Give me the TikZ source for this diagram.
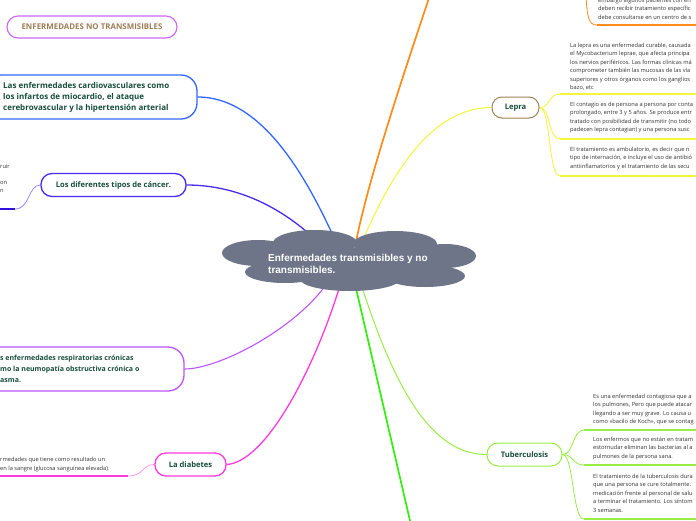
\documentclass[tikz,border=0pt]{standalone}
\usepackage{fontspec}
\setmainfont{Open Sans}
\newfontfamily\cloudfont{Liberation Sans}
\definecolor{cloudgray}{HTML}{6E7589}
\definecolor{dkgreen}{HTML}{174D3C}
\definecolor{titlegold}{HTML}{9B7E55}
\definecolor{titlepurple}{HTML}{CC66FF}
\definecolor{cardioblue}{HTML}{3366FF}
\definecolor{cancerblue}{HTML}{4A2AF0}
\definecolor{cancerlight}{HTML}{9988FF}
\definecolor{cancerdark}{HTML}{3311DD}
\definecolor{resppurple}{HTML}{BB55FF}
\definecolor{diabmagenta}{HTML}{FF3ADF}
\definecolor{diablight}{HTML}{FF99EE}
\definecolor{orangeL}{HTML}{FF8C1A}
\definecolor{yellowL}{HTML}{F5F53A}
\definecolor{lepbrown}{HTML}{A08358}
\definecolor{ltgreen}{HTML}{99EE44}
\definecolor{greenL}{HTML}{33EE11}
\definecolor{txtgray}{HTML}{333333}
\pgfdeclarelayer{bg}
\pgfsetlayers{bg,main}
\begin{document}
\begin{tikzpicture}[x=1pt,y=-1pt,
  topicbox/.style={draw, fill=white, line width=1.3pt, inner sep=0pt,
    font=\bfseries\fontsize{7.6}{11}\selectfont, text=dkgreen},
  topictext/.style={font=\bfseries\fontsize{8}{11}\selectfont, text=dkgreen, inner sep=0pt, align=left},
  small/.style={font=\fontsize{5.7}{8.4}\selectfont, text=txtgray, align=left, anchor=north west, inner sep=0pt},
  conn/.style={line width=1.3pt, line cap=round},
  thinconn/.style={line width=0.8pt},
  underline/.style={line width=1.6pt},
]
\path[use as bounding box] (0,0) rectangle (696,520);
\clip (0,0) rectangle (696,520);

% cloud
\fill[cloudgray] (258,253) ellipse [x radius=36pt, y radius=13pt];
\fill[cloudgray] (315,243) ellipse [x radius=42pt, y radius=13pt];
\fill[cloudgray] (395,244) ellipse [x radius=42pt, y radius=13pt];
\fill[cloudgray] (445,256) ellipse [x radius=31pt, y radius=12pt];
\fill[cloudgray] (425,276) ellipse [x radius=40pt, y radius=11pt];
\fill[cloudgray] (350,279) ellipse [x radius=50pt, y radius=12pt];
\fill[cloudgray] (285,272) ellipse [x radius=40pt, y radius=11pt];
\fill[cloudgray] (262,248) rectangle (450,278);
\node[anchor=north west, inner sep=0pt, align=left, text=white,
  font=\cloudfont\bfseries\fontsize{10}{11.5}\selectfont] (cloud) at (268,254.5)
  {Enfermedades transmisibles y no\\transmisibles.};

% coordinates inside the cloud
\coordinate (cb) at (336,242);
\coordinate (cc) at (318,242);
\coordinate (cr) at (328,282);
\coordinate (cd) at (341,282);
\coordinate (co) at (356,242);
\coordinate (cy) at (362,242);
\coordinate (cl) at (361,284);
\coordinate (cg) at (355,284);
\coordinate (otop) at (430,-5);
\coordinate (gb) at (411,525);

% topic nodes
\node[topicbox, draw=titlepurple, line width=1.1pt, rounded corners=11pt,
  minimum width=170pt, minimum height=22pt, text=titlegold,
  font=\bfseries\fontsize{7.9}{9}\selectfont] (title) at (92,27) {ENFERMEDADES NO TRANSMISIBLES};

\node[topicbox, draw=cardioblue, rounded corners=16pt, minimum width=212pt, minimum height=44pt] (cardio) at (91,97) {};
\node[topictext, anchor=west] (cardiotext) at (3,97)
  {Las enfermedades cardiovasculares como\\los infartos de miocardio, el ataque\\cerebrovascular y la hipertensión arterial};

\node[topicbox, draw=cancerblue, rounded corners=11pt, minimum width=145pt, minimum height=23pt] (cancer) at (113.5,185) {Los diferentes tipos de cáncer.};

\node[topicbox, draw=resppurple, rounded corners=16pt, minimum width=204pt, minimum height=44pt] (resp) at (82,369) {};
\node[topictext, anchor=west, font=\bfseries\fontsize{7}{11}\selectfont] (resptext) at (0,369)
  {s enfermedades respiratorias crónicas\\mo la neumopatía obstructiva crónica o\\asma.};

\node[topicbox, draw=diabmagenta, rounded corners=11pt, minimum width=71pt, minimum height=23pt] (diab) at (190.5,464.5) {La diabetes};

\node[topicbox, draw=lepbrown, line width=1pt, rounded corners=10pt, minimum width=47pt, minimum height=21pt] (lepra) at (515.5,107.5) {Lepra};

\node[topicbox, draw=ltgreen, line width=1pt, rounded corners=11pt, minimum width=75pt, minimum height=23pt] (tb) at (524.5,454.5) {Tuberculosis};

% sub-topic texts
\node[small] (or1) at (598,-2) {embargo algunos pacientes con en\\deben recibir tratamiento específic\\debe consultarse en un centro de s};
\node[small] (lep1) at (570,43) {La lepra es una enfermedad curable, causada\\el Mycobacterium leprae, que afecta principa\\los nervios periféricos. Las formas clínicas má\\comprometer también las mucosas de las vía\\superiores y otros órganos como los ganglios\\bazo, etc};
\node[small] (lep2) at (570,102) {El contagio es de persona a persona por conta\\prolongado, entre 3 y 5 años. Se produce entr\\tratado con posibilidad de transmitir (no todo\\padecen lepra contagian) y una persona susc};
\node[small] (lep3) at (570,147) {El tratamiento es ambulatorio, es decir que n\\tipo de internación, e incluye el uso de antibió\\antiinflamatorios y el tratamiento de las secu};
\node[small] (tb1) at (593,394) {Es una enfermedad contagiosa que a\\los pulmones, Pero que puede atacar\\llegando a ser muy grave. Lo causa u\\como «bacilo de Koch», que se contag};
\node[small] (tb2) at (593,437) {Los enfermos que no están en tratam\\estornudar eliminan las bacterias al a\\pulmones de la persona sana.};
\node[small] (tb3) at (593,474) {El tratamiento de la tuberculosis dura\\que una persona se cure totalmente.\\medicación frente al personal de salu\\a terminar el tratamiento. Los síntom\\3 semanas.};
\node[small] (can1) at (0,164) {ruir};
\node[small] (can2) at (0,181.5) {on};
\node[small] (can3) at (0,189.5) {n};
\node[small, font=\fontsize{5.7}{9}\selectfont] (dia1) at (0,457) {rmedades que tiene como resultado un\\en la sangre (glucosa sanguínea elevada).};

% underline coordinates
\coordinate (o0) at (586,-5);
\coordinate (o1) at (597,25);
\coordinate (o2) at (700,25);
\coordinate (l1a) at (560,94);
\coordinate (l1b) at (700,94);
\coordinate (l2a) at (560,139);
\coordinate (l2b) at (700,139);
\coordinate (l3a) at (560,176);
\coordinate (l3b) at (700,176);
\coordinate (t1a) at (584,430);
\coordinate (t1b) at (700,430);
\coordinate (t2a) at (584,465);
\coordinate (t2b) at (700,465);
\coordinate (t3a) at (584,519);
\coordinate (t3b) at (700,519);
\coordinate (cl1) at (15,209);
\coordinate (cl2) at (-5,209);
\coordinate (dl1) at (128,476);
\coordinate (dl2) at (-5,476);

\begin{pgfonlayer}{bg}
\fill[white] (0,0) rectangle (696,520);
\draw[conn, cardioblue] (cardio.east) .. controls (265,97) and (310,185) .. (cb);
\draw[conn, cancerblue] (cancer.east) .. controls (240,185) and (285,210) .. (cc);
\draw[conn, resppurple, line width=1.1pt] (resp.east) .. controls (218,369) and (295,330) .. (cr);
\draw[conn, diabmagenta] (diab.east) .. controls (268,462) and (318,360) .. (cd);
\draw[conn, orangeL, line width=1.7pt] (co) .. controls (368,180) and (405,70) .. (otop);
\draw[conn, yellowL, line width=1pt] (cy) .. controls (392,172) and (432,107.5) .. (lepra.west);
\draw[conn, ltgreen, line width=1pt] (cl) .. controls (395,390) and (432,454.5) .. (tb.west);
\draw[conn, greenL, line width=1.7pt] (cg) -- (gb);
% sub-topic connectors
\draw[thinconn, orangeL] (o0) .. controls (587,18) and (589,25) .. (o1);
\draw[underline, orangeL] (o1) -- (o2);
\draw[thinconn, yellowL] (lepra.east) .. controls (551,107.5) and (548,94) .. (l1a);
\draw[thinconn, yellowL] (lepra.east) .. controls (551,107.5) and (548,139) .. (l2a);
\draw[thinconn, yellowL] (lepra.east) .. controls (551,107.5) and (548,176) .. (l3a);
\draw[underline, yellowL] (l1a) -- (l1b);
\draw[underline, yellowL] (l2a) -- (l2b);
\draw[underline, yellowL] (l3a) -- (l3b);
\draw[thinconn, ltgreen] (tb.east) .. controls (574,454.5) and (572,430) .. (t1a);
\draw[thinconn, ltgreen] (tb.east) .. controls (574,454.5) and (572,465) .. (t2a);
\draw[thinconn, ltgreen] (tb.east) .. controls (574,454.5) and (572,519) .. (t3a);
\draw[underline, ltgreen] (t1a) -- (t1b);
\draw[underline, ltgreen] (t2a) -- (t2b);
\draw[underline, ltgreen] (t3a) -- (t3b);
\draw[thinconn, cancerlight] (cancer.west) .. controls (28,185) and (30,209) .. (cl1);
\draw[underline, cancerdark, line width=2pt] (cl1) -- (cl2);
\draw[thinconn, diablight] (diab.west) .. controls (142,464.5) and (144,476) .. (dl1);
\draw[underline, diabmagenta, line width=2pt] (dl1) -- (dl2);
\end{pgfonlayer}
\end{tikzpicture}
\end{document}
